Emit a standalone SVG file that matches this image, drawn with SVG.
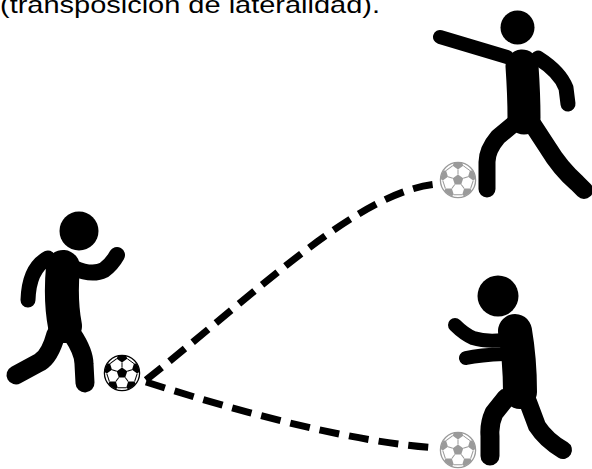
<svg xmlns="http://www.w3.org/2000/svg" xmlns:xlink="http://www.w3.org/1999/xlink" width="592" height="469" viewBox="0 0 592 469">
  <style>
    .caption { font-family: "Liberation Sans", Arial, sans-serif; font-size: 24px; fill: #000; }
    .limb { fill: none; stroke: #000; stroke-linecap: round; stroke-linejoin: round; }
    .pass { fill: none; stroke: #000; stroke-width: 7; stroke-dasharray: 20 10; }
    .ball-dark { color: #000; }
    .ball-light { color: #9a9a9a; }
  </style>
  <defs>
    <clipPath id="ballClip">
      <circle cx="0" cy="0" r="17.4"/>
    </clipPath>
    <!-- one fifth of the ball pattern: a rim patch, a seam and the joining seam to the next patch -->
    <g id="ballSlice">
      <polygon points="0,-10.5 5.23,-14.3 3.23,-20.45 -3.23,-20.45 -5.23,-14.3" fill="currentColor"/>
      <line x1="0" y1="-5.5" x2="0" y2="-10.5" stroke="currentColor" stroke-width="1"/>
      <line x1="5.23" y1="-14.3" x2="11.98" y2="-9.39" stroke="currentColor" stroke-width="1"/>
    </g>
    <g id="ball">
      <circle cx="0" cy="0" r="17.6" fill="#fff" stroke="currentColor" stroke-width="1.3"/>
      <g clip-path="url(#ballClip)">
        <polygon points="0,-5.5 5.23,-1.7 3.23,4.45 -3.23,4.45 -5.23,-1.7" fill="currentColor"/>
        <use xlink:href="#ballSlice"/>
        <use xlink:href="#ballSlice" transform="rotate(72)"/>
        <use xlink:href="#ballSlice" transform="rotate(144)"/>
        <use xlink:href="#ballSlice" transform="rotate(216)"/>
        <use xlink:href="#ballSlice" transform="rotate(288)"/>
      </g>
    </g>
  </defs>

  <rect width="592" height="469" fill="#fff"/>

  <text class="caption" x="0" y="13" textLength="380" lengthAdjust="spacingAndGlyphs">(transposición de lateralidad).</text>

  <!-- passing lanes -->
  <g id="connectors">
    <path class="pass" d="M146,380 C260,290 360,190 438,184"/>
    <path class="pass" d="M146,382 C240,412 350,442 437,448"/>
  </g>

  <!-- player with the ball, bottom left -->
  <g id="player-left">
    <circle cx="79" cy="231" r="19.5"/>
    <path class="limb" stroke-width="34" d="M63,267 Q60,300 65,326"/>
    <path class="limb" stroke-width="15" d="M48,258 Q29,268 28,300"/>
    <path class="limb" stroke-width="16" d="M74,268 Q92,276 104,270 Q112,264 117,255"/>
    <path class="limb" stroke-width="19" d="M56,334 Q50,356 40,362 L16,375"/>
    <path class="limb" stroke-width="19" d="M72,334 Q84,352 84,364 L85,383"/>
    <use xlink:href="#ball" class="ball-dark" x="122" y="373"/>
  </g>

  <!-- pointing player, top right -->
  <g id="player-top">
    <circle cx="517.5" cy="27.5" r="17"/>
    <path class="limb" stroke-width="33" d="M522,66 Q524,95 524,118"/>
    <path class="limb" stroke-width="14" d="M440,37 L507,57"/>
    <path class="limb" stroke-width="15" d="M538,58 Q560,72 566,88 L568,104"/>
    <path class="limb" stroke-width="17" d="M516,122 L498,137 Q487,150 487,162 L487,189"/>
    <path class="limb" stroke-width="18" d="M531,122 L548,148 Q560,168 577,183 L584,190"/>
    <use xlink:href="#ball" class="ball-light" x="458" y="180"/>
  </g>

  <!-- receiving player, bottom right -->
  <g id="player-bottom">
    <circle cx="498" cy="296" r="20.5"/>
    <path class="limb" stroke-width="34" d="M515,331 Q520,360 520,392"/>
    <path class="limb" stroke-width="14" d="M455,325 Q464,334 473,338 Q486,342 503,340"/>
    <path class="limb" stroke-width="14" d="M466,358 Q480,355 504,354"/>
    <path class="limb" stroke-width="19" d="M506,398 L494,413 Q489,424 490,436 L490,456"/>
    <path class="limb" stroke-width="18" d="M528,402 L537,426 Q546,440 563,450"/>
    <use xlink:href="#ball" class="ball-light" x="458" y="450"/>
  </g>
</svg>
